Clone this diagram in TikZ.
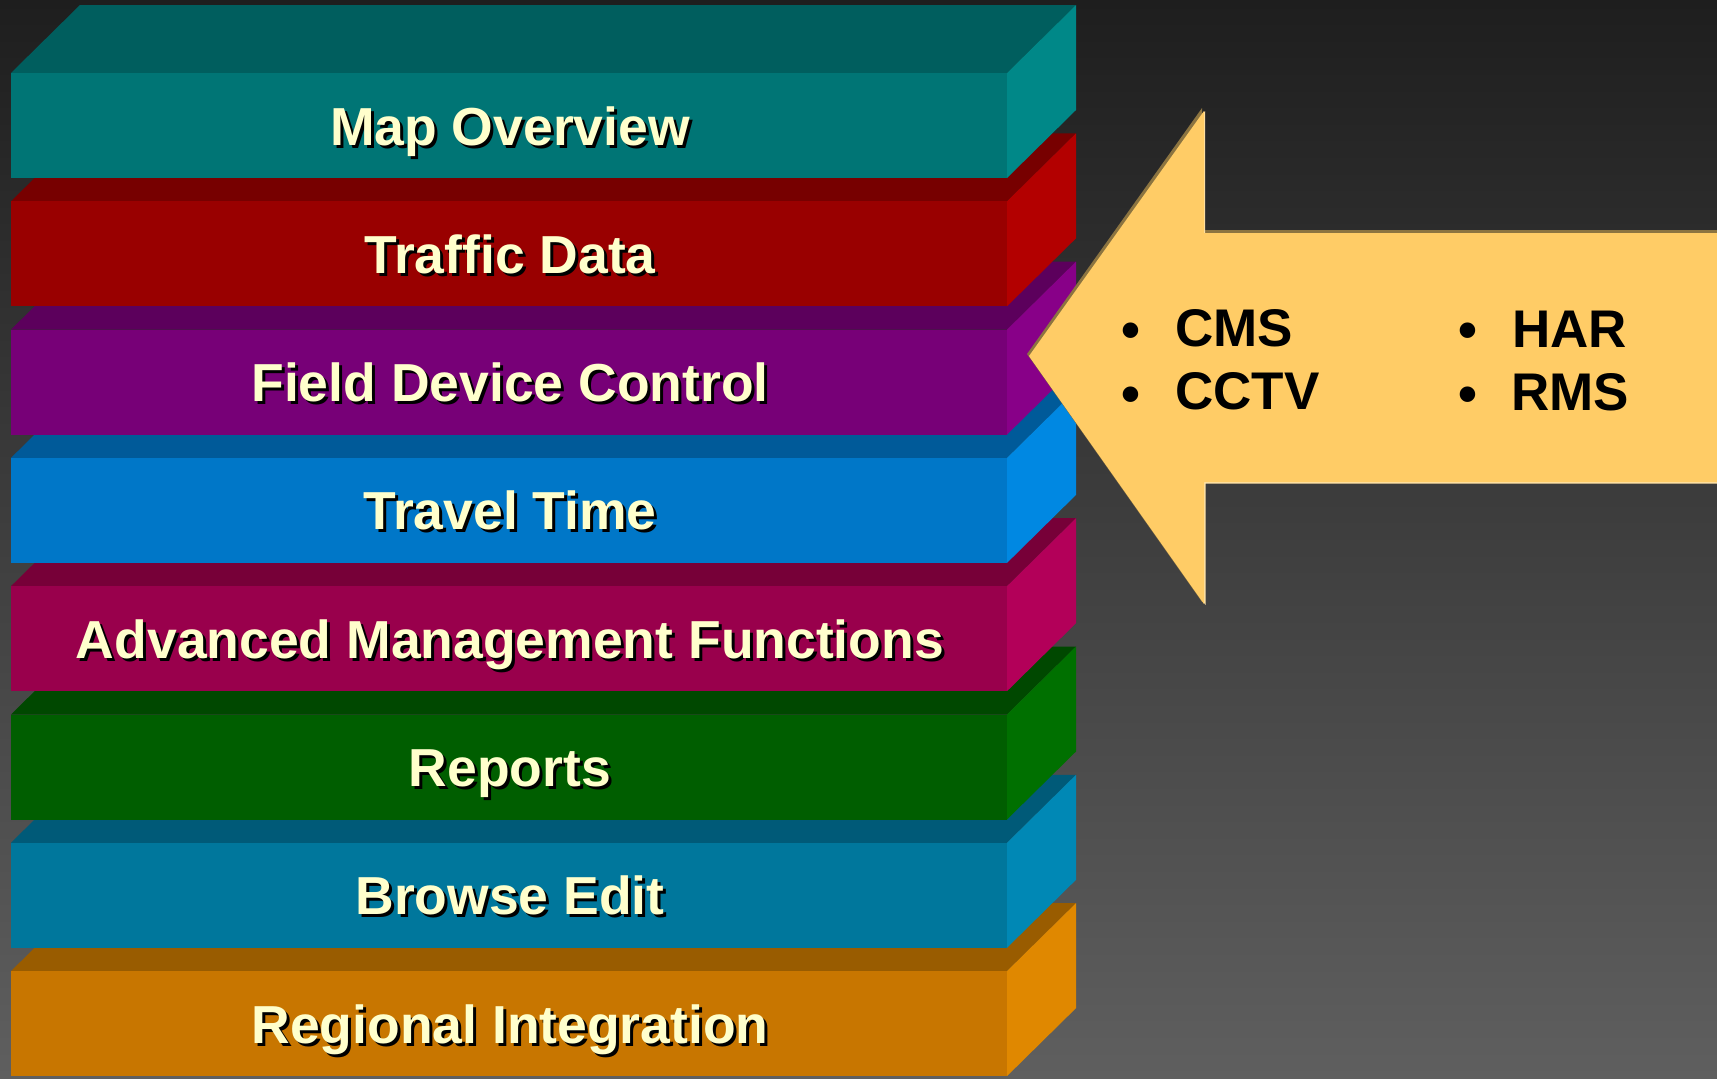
\documentclass[tikz,border=0pt]{standalone}
\usepackage{fontspec}
\setmainfont{Liberation Sans}
% layer colours: front / top / side
\definecolor{tealF}{HTML}{007575}\definecolor{tealT}{HTML}{005E5E}\definecolor{tealS}{HTML}{008888}
\definecolor{redF}{HTML}{990000}\definecolor{redT}{HTML}{770000}\definecolor{redS}{HTML}{B30000}
\definecolor{purpF}{HTML}{770077}\definecolor{purpT}{HTML}{5C005C}\definecolor{purpS}{HTML}{880088}
\definecolor{blueF}{HTML}{0077C8}\definecolor{blueT}{HTML}{005A99}\definecolor{blueS}{HTML}{0088E2}
\definecolor{magF}{HTML}{99004C}\definecolor{magT}{HTML}{770038}\definecolor{magS}{HTML}{B30059}
\definecolor{grnF}{HTML}{005E00}\definecolor{grnT}{HTML}{004800}\definecolor{grnS}{HTML}{007000}
\definecolor{steelF}{HTML}{00779C}\definecolor{steelT}{HTML}{005A78}\definecolor{steelS}{HTML}{0088B5}
\definecolor{orgF}{HTML}{C87600}\definecolor{orgT}{HTML}{995C00}\definecolor{orgS}{HTML}{E08800}
\definecolor{labelYellow}{HTML}{FFFFCC}
\definecolor{arrowFill}{HTML}{FFCC66}
\definecolor{arrowDark}{HTML}{8C7440}
\definecolor{arrowLight}{HTML}{FFE2A6}
\definecolor{bgTop}{HTML}{1E1E1E}
\definecolor{bgBottom}{HTML}{5F5F5F}
\tikzset{
  layerlabel/.style={anchor=base, inner sep=0pt, text=labelYellow,
    font=\fontsize{53.5}{60}\selectfont\bfseries},
  layershadow/.style={layerlabel, text=black},
  itemlabel/.style={anchor=base west, inner sep=0pt, text=black,
    font=\fontsize{53}{60}\selectfont\bfseries},
  bulletmark/.style={anchor=base, inner sep=0pt, text=black,
    font=\fontsize{54}{60}\selectfont\bfseries},
}
\begin{document}
\begin{tikzpicture}[x=1pt,y=-1pt]
% backdrop
\useasboundingbox (0,0) rectangle (1717,1079);
\shade[top color=bgTop, bottom color=bgBottom] (0,0) rectangle (1717,1079);
% stacked layers, drawn from the bottom one upwards
\foreach \i/\cf/\ct/\cs/\lbl/\nm [evaluate=\i as \y using 73+128.3*\i] in {
    7/orgF/orgT/orgS/Regional Integration/regional,
    6/steelF/steelT/steelS/Browse Edit/browse,
    5/grnF/grnT/grnS/Reports/reports,
    4/magF/magT/magS/Advanced Management Functions/advanced,
    3/blueF/blueT/blueS/Travel Time/travel,
    2/purpF/purpT/purpS/Field Device Control/field,
    1/redF/redT/redS/Traffic Data/traffic,
    0/tealF/tealT/tealS/Map Overview/map}
{
  \fill[\ct] (11,\y) -- (80,\y-68) -- (1076,\y-68) -- (1007,\y) -- cycle;
  \fill[\cs] (1007,\y) -- (1076,\y-68) -- (1076,\y+37) -- (1007,\y+105) -- cycle;
  \fill[\cf] (11,\y) rectangle (1007,\y+105);
  \node[layershadow] at (513,\y+75) {\lbl};
  \node[layerlabel] (\nm) at (510,\y+72) {\lbl};
}
% block arrow pointing at the stack
\coordinate (tip) at (1029,356);
\fill[arrowDark] (1027,354) -- (1202,108) -- (1202,230) -- (1717,230)
  -- (1717,480) -- (1202,480) -- (1202,602) -- cycle;
\fill[arrowLight] (1030,357) -- (1205,111) -- (1205,233) -- (1717,233)
  -- (1717,483.5) -- (1205.5,483.5) -- (1205.5,605) -- cycle;
\fill[arrowFill] (tip) -- (1204,111) -- (1204,233) -- (1717,233)
  -- (1717,482) -- (1204,482) -- (1204,604) -- cycle;
% arrow contents
\node[bulletmark] (b1) at (1131,348) {•};
\node[bulletmark] (b2) at (1131,412) {•};
\node[bulletmark] (b3) at (1468,348) {•};
\node[bulletmark] (b4) at (1468,412) {•};
\node[itemlabel] (cms)  at (1175,346) {CMS};
\node[itemlabel] (cctv) at (1175,409) {CCTV};
\node[itemlabel] (har)  at (1512,347) {HAR};
\node[itemlabel] (rms)  at (1511,410) {RMS};
\end{tikzpicture}
\end{document}
